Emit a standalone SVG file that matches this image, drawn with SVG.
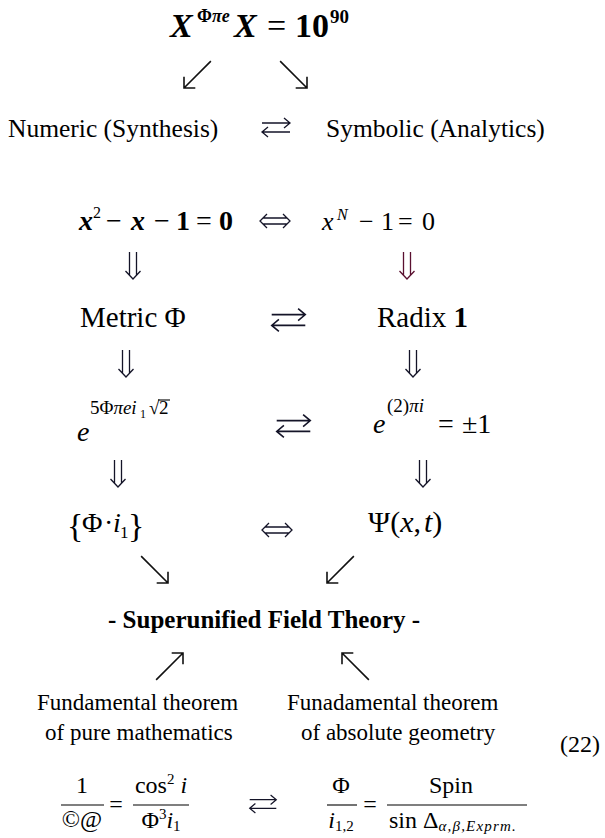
<svg xmlns="http://www.w3.org/2000/svg" width="605" height="838" viewBox="0 0 605 838">
<style>
text { font-family: "Liberation Serif", "Times New Roman", serif; fill: #000; }
.i { font-style: italic; }
.b { font-weight: bold; }
.m { text-anchor: middle; }
.ar { fill: none; stroke: #111; stroke-width: 1.6; stroke-linecap: butt; }
.dbl { fill: none; stroke: #141428; stroke-width: 1.3; }
.red { stroke: #5a1030; }
.fr { stroke: #000; stroke-width: 1.1; }
</style>
<defs>
<g id="dn"><path d="M-3.5,0 V23.3 M3.5,0 V23.3 M-7.5,19 L0,27 L7.5,19"/></g>
<g id="lr"><path d="M-14,-4.5 H14 M8,-9.5 L14,-4.5 L8,0.5 M14,4.5 H-14 M-8,-0.5 L-14,4.5 L-8,9.5"/></g>
<g id="iff"><path d="M-8,-7 L-15,0 L-8,7 M8,-7 L15,0 L8,7 M-12,-3 H12 M-12,3 H12"/></g>
<g id="a1"><path d="M-38,0 H0 M-8,-8 L0,0 L-8,8"/></g>
</defs>

<g id="title">
<text class="b i" x="170" y="37" font-size="34">X</text>
<text class="b" x="197" y="22" font-size="18">Φ<tspan class="i">πe</tspan></text>
<text class="b i" x="234" y="37" font-size="34">X</text>
<text x="267" y="37" font-size="34">=</text>
<text class="b" x="295" y="37" font-size="34">10</text>
<text class="b" x="330" y="23" font-size="19">90</text>
</g>

<g id="numeric"><text x="8" y="137" font-size="25.5">Numeric (Synthesis)</text></g>
<g id="symbolic"><text x="326" y="137" font-size="25.5">Symbolic (Analytics)</text></g>

<g id="golden">
<text class="b i" x="79" y="230" font-size="28">x</text>
<text x="93" y="218" font-size="16">2</text>
<text x="106" y="230" font-size="28">−</text>
<text class="b i" x="131" y="230" font-size="28">x</text>
<text x="154" y="230" font-size="28">−</text>
<text class="b" x="176" y="230" font-size="28">1</text>
<text x="196" y="230" font-size="28">=</text>
<text class="b" x="219" y="230" font-size="28">0</text>
</g>
<g id="unity">
<text class="i" x="322" y="230" font-size="26">x</text>
<text class="i" x="337" y="220" font-size="16">N</text>
<text x="359" y="230" font-size="26">−</text>
<text x="381" y="230" font-size="26">1</text>
<text x="398" y="230" font-size="26">=</text>
<text x="422" y="230" font-size="26">0</text>
</g>

<g id="metric"><text x="80" y="327" font-size="29">Metric Φ</text></g>
<g id="radix"><text x="377" y="327" font-size="29">Radix <tspan class="b">1</tspan></text></g>

<g id="expo-left">
<text class="i" x="77" y="441" font-size="28">e</text>
<text x="90" y="414" font-size="19">5Φ<tspan class="i">πei</tspan></text>
<text x="140" y="418" font-size="12">1</text>
<text x="149" y="414" font-size="19">√</text>
<text x="159" y="414" font-size="19">2</text>
<line class="fr" x1="158" y1="400" x2="170" y2="400"/>
</g>
<g id="expo-right">
<text class="i" x="373" y="433" font-size="28">e</text>
<text x="387" y="412" font-size="19">(2)<tspan class="i">πi</tspan></text>
<text x="438" y="433" font-size="28">=</text>
<text x="462" y="433" font-size="28">±1</text>
</g>

<g id="set">
<text x="67" y="537" font-size="34">{</text>
<text x="82" y="532" font-size="28">Φ</text>
<text x="104" y="532" font-size="28">·</text>
<text class="i" x="113" y="532" font-size="28">i</text>
<text x="120" y="538" font-size="17">1</text>
<text x="128" y="537" font-size="34">}</text>
</g>
<g id="psi"><text x="368" y="532" font-size="30">Ψ(<tspan class="i">x</tspan>,<tspan class="i" dx="3">t</tspan>)</text></g>

<g id="sft"><text class="b" x="108" y="628" font-size="25">- Superunified Field Theory -</text></g>

<g id="pure">
<text x="37" y="710" font-size="23">Fundamental theorem</text>
<text x="45" y="740" font-size="23">of pure mathematics</text>
</g>
<g id="absolute">
<text x="287" y="710" font-size="23">Funadamental theorem</text>
<text x="301" y="740" font-size="23">of absolute geometry</text>
</g>
<g id="eqnum"><text x="560" y="752" font-size="24">(22)</text></g>

<g id="formula-left">
<text class="m" x="82" y="793" font-size="24">1</text>
<line class="fr" x1="61" y1="805" x2="104" y2="805"/>
<text class="m" x="82" y="827" font-size="24">©@</text>
<text class="m" x="116" y="812" font-size="24">=</text>
<text class="m" x="161" y="793" font-size="24">cos<tspan font-size="15" dy="-9">2</tspan><tspan class="i" dy="9"> i</tspan></text>
<line class="fr" x1="133" y1="805" x2="189" y2="805"/>
<text class="m" x="161" y="828" font-size="24">Φ<tspan font-size="15" dy="-9">3</tspan><tspan class="i" dy="9">i</tspan><tspan font-size="15" dy="3">1</tspan></text>
</g>
<g id="formula-right">
<text class="m" x="341" y="793" font-size="24">Φ</text>
<line class="fr" x1="327" y1="805" x2="357" y2="805"/>
<text class="m" x="341" y="828" font-size="24"><tspan class="i">i</tspan><tspan font-size="15" dy="3">1,2</tspan></text>
<text class="m" x="370" y="812" font-size="24">=</text>
<text class="m" x="451" y="793" font-size="24">Spin</text>
<line class="fr" x1="387" y1="805" x2="527" y2="805"/>
<text x="389" y="828" font-size="24">sin Δ<tspan class="i" font-size="15" dy="3" letter-spacing="1.2">α,β,Exprm.</tspan></text>
</g>

<g id="connectors">
<use href="#a1" class="ar" transform="translate(184,88) rotate(135)"/>
<use href="#a1" class="ar" transform="translate(307,88) rotate(45)"/>
<use href="#lr" class="dbl" transform="translate(276,127.5)"/>
<use href="#iff" class="dbl" transform="translate(275,221)"/>
<use href="#dn" class="dbl" transform="translate(133,252)"/>
<use href="#dn" class="dbl red" transform="translate(407,252)"/>
<use href="#lr" class="dbl" transform="translate(288.5,320) scale(1.2)"/>
<use href="#dn" class="dbl" transform="translate(126,350)"/>
<use href="#dn" class="dbl" transform="translate(413,350)"/>
<use href="#lr" class="dbl" transform="translate(293.5,426) scale(1.2)"/>
<use href="#dn" class="dbl" transform="translate(118,460)"/>
<use href="#dn" class="dbl" transform="translate(423,460)"/>
<use href="#iff" class="dbl" transform="translate(277,530)"/>
<use href="#a1" class="ar" transform="translate(168,583) rotate(45)"/>
<use href="#a1" class="ar" transform="translate(327,583) rotate(135)"/>
<use href="#a1" class="ar" transform="translate(183,653) rotate(-45)"/>
<use href="#a1" class="ar" transform="translate(342,653) rotate(-135)"/>
<use href="#lr" class="dbl" transform="translate(263,804) scale(0.95)"/>
</g>
</svg>
